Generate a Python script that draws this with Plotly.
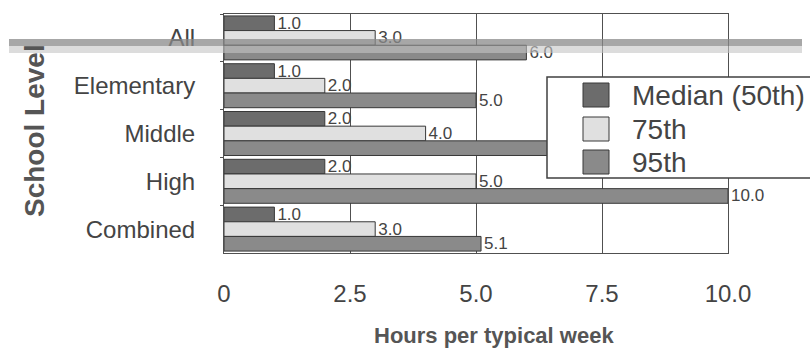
import plotly.graph_objects as go

# School levels (top to bottom) and hours per typical week at each percentile
levels = ["All", "Elementary", "Middle", "High", "Combined"]
median_50 = [1.0, 1.0, 2.0, 2.0, 1.0]
pct_75 = [3.0, 2.0, 4.0, 5.0, 3.0]
pct_95 = [6.0, 5.0, 8.0, 10.0, 5.1]
x_ticks = [0, 2.5, 5, 7.5, 10]
x_tick_text = ["0", "2.5", "5.0", "7.5", "10.0"]

series = [
    ("Median (50th)", median_50, "#6c6c6c"),
    ("75th", pct_75, "#e0e0e0"),
    ("95th", pct_95, "#8a8a8a"),
]

FONT = "Liberation Sans, Arial, sans-serif"
TEXT = "#444444"
EDGE = "#383838"

# plot area in pixels, used to place paper-referenced decorations
L, R, T, B = 224, 728, 14, 253
def px_x(p):
    return (p - L) / (R - L)
def px_y(p):
    return (B - p) / (B - T)

LEGEND_X0 = 547  # left edge of the legend box; labels right of it are covered

fig = go.Figure()
for name, vals, color in series:
    # value labels; a label that would sit under the legend box is left out
    labels = [f"{v:.1f}" if L + v * (R - L) / 10 < LEGEND_X0 - 10 or
              lv not in ("Middle",) else "" for v, lv in zip(vals, levels)]
    fig.add_trace(go.Bar(
        y=levels, x=vals, name=name, orientation="h",
        marker=dict(color=color, line=dict(color=EDGE, width=1)),
        text=labels, textposition="outside", constraintext="none",
        textfont=dict(size=17, color=TEXT, family=FONT),
        cliponaxis=False, showlegend=False,
    ))

fig.update_layout(
    width=810, height=357,
    margin=dict(l=L, r=810 - R, t=T, b=357 - B),
    paper_bgcolor="white", plot_bgcolor="white",
    barmode="group", bargap=0.08, bargroupgap=0,
    font=dict(family=FONT, color=TEXT),
    showlegend=False,
    xaxis=dict(
        range=[0, 10], tickvals=x_ticks, ticktext=x_tick_text,
        tickfont=dict(size=24, color=TEXT), ticklabelstandoff=19,
        showgrid=True, gridcolor="#505050", gridwidth=1,
        showline=True, linecolor="#505050", mirror=True, zeroline=False,
    ),
    yaxis=dict(
        autorange="reversed",
        tickfont=dict(size=24, color=TEXT), ticklabelstandoff=23,
        showline=True, linecolor="#505050", mirror=True,
        ticks="outside", ticklen=3, tickcolor="#505050", tickson="boundaries",
    ),
)

# axis titles
fig.add_annotation(text="<b>Hours per typical week</b>", xref="paper", yref="paper",
                   x=px_x(494), y=px_y(335), xanchor="center", yanchor="middle",
                   showarrow=False, font=dict(size=22, color="#555555", family=FONT))
fig.add_annotation(text="<b>School Level</b>", xref="paper", yref="paper",
                   x=px_x(34), y=px_y(131), xanchor="center", yanchor="middle",
                   showarrow=False, textangle=-90,
                   font=dict(size=28, color="#555555", family=FONT))

# legend box drawn over the plot
fig.add_shape(type="rect", xref="paper", yref="paper",
              x0=px_x(LEGEND_X0), x1=px_x(814), y0=px_y(178), y1=px_y(77),
              fillcolor="white", line=dict(color="#404040", width=1.5), layer="above")
row_y = [95, 129, 162]
for (name, _, color), cy in zip(series, row_y):
    fig.add_shape(type="rect", xref="paper", yref="paper",
                  x0=px_x(583), x1=px_x(609), y0=px_y(cy + 12), y1=px_y(cy - 12),
                  fillcolor=color, line=dict(color=EDGE, width=1), layer="above")
    fig.add_annotation(text=name, xref="paper", yref="paper",
                       x=px_x(630), y=px_y(cy), xanchor="left", yanchor="middle",
                       showarrow=False, font=dict(size=28, color=TEXT, family=FONT))

# highlighter stroke running across the "All" row
fig.add_shape(type="rect", xref="paper", yref="paper",
              x0=px_x(9), x1=px_x(802), y0=px_y(46), y1=px_y(39),
              fillcolor="#8a8a8a", opacity=0.75, line_width=0, layer="above")
fig.add_shape(type="rect", xref="paper", yref="paper",
              x0=px_x(9), x1=px_x(802), y0=px_y(53), y1=px_y(46),
              fillcolor="#c4c4c4", opacity=0.6, line_width=0, layer="above")

fig.write_html("out.html")
